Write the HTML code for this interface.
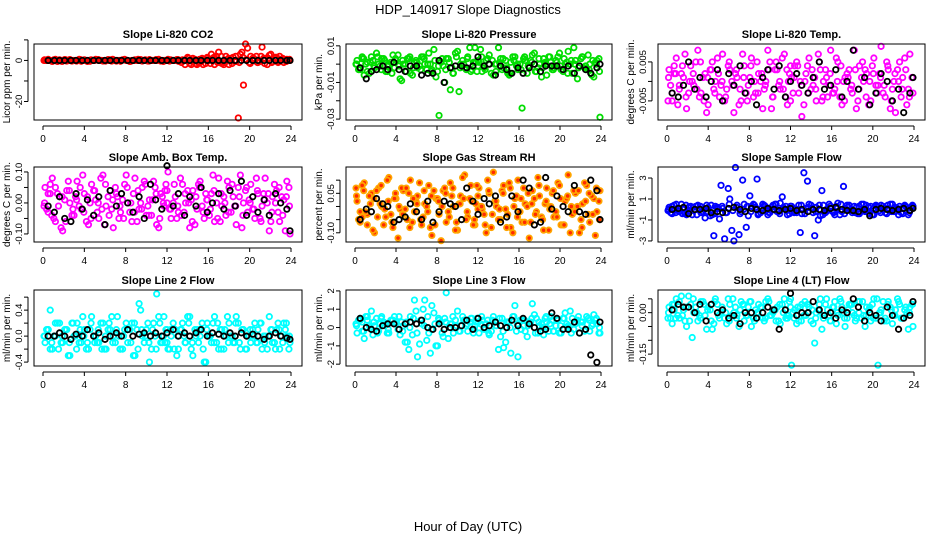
<!DOCTYPE html>
<html><head><meta charset="utf-8"><style>
body{margin:0;background:#fff;}
svg{display:block;font-family:"Liberation Sans",sans-serif;}
</style></head><body>
<svg id="chart" width="936" height="540" viewBox="0 0 936 540">
<text x="468" y="14" text-anchor="middle" font-size="13">HDP_140917  Slope Diagnostics</text>
<text x="468" y="531" text-anchor="middle" font-size="13">Hour of Day (UTC)</text>
</svg>
<script>
const xTicks=[0,4,8,12,16,20,24];
const xTickLabels=["0","4","8","12","16","20","24"];
const hoursA=[0.2,0.5,0.9,1.2,1.6,1.9,2.3,2.6,3.0,3.3,3.7,4.0,4.4,4.7,5.1,5.4,5.8,6.1,6.5,6.8,7.2,7.5,7.9,8.2,8.6,8.9,9.3,9.6,10.0,10.3,10.7,11.0,11.4,11.7,12.1,12.4,12.8,13.1,13.5,13.8,14.2,14.5,14.9,15.2,15.6,15.9,16.3,16.6,17.0,17.3,17.7,18.0,18.4,18.7,19.1,19.4,19.8,20.1,20.5,20.8,21.2,21.5,21.9,22.2,22.6,22.9,23.3,23.6,23.9,0.7];
const hoursB=[0.35,0.7,1.05,1.4,1.75,2.1,2.45,2.8,3.15,3.5,3.85,4.2,4.55,4.9,5.25,5.6,5.95,6.3,6.65,7.0,7.35,7.7,8.05,8.4,8.75,9.1,9.45,9.8,10.15,10.5,10.85,11.2,11.55,11.9,12.25,12.6,12.95,13.3,13.65,14.0,14.35,14.7,15.05,15.4,15.75,16.1,16.45,16.8,17.15,17.5,17.85,18.2,18.55,18.9,19.25,19.6,19.95,20.3,20.65,21.0,21.35,21.7,22.05,22.4,22.75,23.1,23.45,23.8,0.1,12.0];
const hoursC=[0.15,0.5,0.85,1.2,1.5,1.85,2.2,2.55,2.9,3.25,3.6,3.95,4.3,4.65,5.0,5.35,5.7,6.05,6.4,6.75,7.1,7.45,7.8,8.15,8.5,8.85,9.2,9.55,9.9,10.25,10.6,10.95,11.3,11.65,12.0,12.35,12.7,13.05,13.4,13.75,14.1,14.45,14.8,15.15,15.5,15.85,16.2,16.55,16.9,17.25,17.6,17.95,18.3,18.65,19.0,19.35,19.7,20.05,20.4,20.75,21.1,21.45,21.8,22.15,22.5,22.85,23.2,23.55,23.85,11.8];
const hoursK=[0.5,1.1,1.6,2.1,2.7,3.2,3.8,4.3,4.9,5.4,6.0,6.5,7.1,7.6,8.2,8.7,9.3,9.8,10.4,10.9,11.5,12.0,12.6,13.1,13.7,14.2,14.8,15.3,15.9,16.4,17.0,17.5,18.1,18.6,19.2,19.7,20.3,20.8,21.4,21.9,22.5,23.0,23.6,23.9];

// Panel 1: CO2 (ppm/min)
const co2A=[0,0.5,-0.5,0,0.3,0,-0.3,0.4,0,0,-0.4,0.3,0,0,0.5,0,-0.3,0,0.3,0,0,-0.4,0.5,0,0,0.3,0,-0.3,0,0.4,0,0,-0.3,0,0.5,0,0,-0.4,0.3,0,-1.5,1,-2,-1,0.5,1.5,3,-2,4,-1.5,2,-2,1.5,-0.5,3,-12,6,2,0,-1,6.5,1,2.5,-0.5,1.5,2,-1,0.5,0,0];
const co2B=[0,0,0.3,-0.5,0,0.4,0,-0.3,0,0.5,0,0,-0.4,0,0.3,0,0,0.4,-0.3,0,0,0.3,0,-0.5,0,0,0.4,0,-0.3,0,0,0.5,0,0,-0.3,0,0.4,0,0,1.5,-2,0.5,-1,1,-1.5,0,1,2,-1,-2,0.5,1,-0.5,-28,4,8,-1,1,2,-0.5,1,-2,3,1,-1,0.5,0,0.3,0,0];
const co2C=[0.3,0,-0.3,0.5,0,-0.5,0.3,0,0,-0.3,0.4,0,-0.5,0.3,0,0.4,0,-0.3,0,0.5,-0.3,0,0.3,0,-0.4,0,0.5,0,0.3,-0.3,0,0.4,0,-0.5,0,0.3,0,0.4,-1,-2,1,-0.5,-1.5,0.5,-2,1,-1.5,1.5,-1,2,-1,1,-1.5,2,-1,1.5,0.5,-1.5,1,-1,2,-1.5,1,-1,1.5,-0.5,1,-0.5,0.5,0];
const co2K=[0,0,0,0,0,0,0,0,0,0,0,0,0,0,0,0,0,0,0,0,0,0,0,0,0,0,0,0,0,0,0,0,0,0,0,0,0,0,0,0,0,0,0,0];
// Panel 2: pressure (0.001 kPa/min)
const presA=[2,-3,-6,1,4,-2,0,3,-4,-1,5,2,-8,0,3,-5,1,-2,4,0,6,-3,-7,-28,-1,3,-14,-5,7,0,-2,4,-3,9,1,-4,2,5,-6,0,3,-2,-5,1,4,-3,-24,2,-1,5,-4,0,3,-6,1,-2,4,-3,0,7,-5,2,-1,4,-3,0,-7,2,-29,3];
const presB=[-3,4,0,-5,2,6,-1,3,-4,1,-2,5,-9,0,3,-6,2,-1,4,-3,0,8,-4,1,-10,3,-2,6,-15,2,-3,9,1,-4,8,-2,3,-5,0,9,-3,2,-6,4,-1,0,3,-5,2,6,-2,-7,1,4,-3,2,6,-4,1,0,9,-8,3,-2,5,-6,1,3,0,2];
const presC=[0,-2,3,-4,1,-1,4,-3,2,0,-5,3,-1,2,-4,4,-2,1,-3,3,0,-4,2,-1,3,-3,1,-5,4,-2,0,3,-4,1,-1,4,-3,0,2,-4,1,3,-2,-5,2,0,-3,4,-1,1,-4,3,-2,0,4,-3,1,-1,3,-5,2,0,-2,4,-1,-3,2,0,-4,1];
const presK=[-2,-8,-4,-3,-1,-3,1,-3,-4,-1,-1,-6,-5,-5,2,-10,-2,-1,-1,-2,-1,4,-1,0,-6,-1,-3,-5,-2,-5,-2,0,-4,-1,-1,-1,-3,-1,-5,-1,-3,-5,-2,0];
// Panel 3: Li-820 temp (0.001 C/min)
const tempA=[3,-5,6,-2,1,-7,4,-1,8,-3,2,-6,5,0,-4,7,-2,3,-8,1,-5,4,-1,6,-3,2,-7,0,5,-4,3,-2,7,-6,1,4,-3,-9,2,6,-1,-5,3,0,-4,8,-2,5,-6,1,3,-3,-7,4,0,2,-5,6,-1,9,-4,3,-2,-8,5,1,-6,7,-3,2];
const tempB=[-1,4,-6,2,7,-3,0,5,-4,1,-8,3,-2,6,-1,-5,4,0,2,-6,7,-3,1,-4,5,0,-2,8,-7,3,-1,6,-4,2,-3,5,0,-6,4,-2,1,7,-5,3,-1,-3,6,-4,0,2,-2,8,-5,1,3,-6,4,-1,2,-3,5,-7,0,3,-4,6,-2,1,-5,4];
const tempC=[1,-3,2,-1,4,-4,0,2,-2,5,-5,1,3,-3,2,0,-4,5,-1,3,-2,1,-5,4,0,-3,2,-1,3,-4,5,0,-2,3,-5,1,4,-1,0,-3,3,-2,5,-4,1,2,-3,0,4,-5,1,-1,3,-2,5,-4,0,2,-3,1,-1,4,-5,2,0,-2,3,-4,1,0];
const tempK=[-3,-4,-1,5,-2,1,-4,0,3,-5,2,-1,4,-3,0,-6,1,3,-2,4,-4,0,2,-1,-3,1,5,-2,-1,3,-4,0,8,-2,1,-6,-3,2,0,-5,-2,-8,-3,1];
// Panel 4: amb box temp (0.01 C/min)
const ambA=[5,-3,8,-6,2,-9,4,0,-4,7,-2,3,-7,6,1,-5,9,-1,4,-8,2,-3,6,0,-6,8,-2,5,-4,1,7,-7,3,-1,10,-5,2,-3,6,0,-8,4,-2,7,-5,1,3,-6,8,-1,-4,5,2,-7,9,0,-3,6,-5,3,-1,8,-9,2,4,-6,1,7,-10,3];
const ambB=[-2,6,-5,3,-8,1,7,-4,2,-1,9,-6,0,4,-3,8,-7,2,-2,5,-5,1,9,-3,3,-6,0,7,-1,-4,5,-8,2,6,-2,0,-5,8,-3,4,1,-7,6,-1,3,-4,9,0,-6,2,7,-3,-1,5,-8,4,1,-2,8,-5,3,0,-6,6,-3,2,-9,5,-1,0];
const ambC=[0,3,-4,5,-1,2,-6,4,-2,1,5,-3,2,-5,4,0,-2,6,-4,1,3,-1,-5,5,0,-3,4,-2,6,-4,1,3,-5,0,4,-2,6,-1,-4,3,0,-6,2,5,-3,1,-2,4,-5,3,0,-3,6,-1,2,-4,5,0,-2,4,-6,1,3,-3,0,5,-4,2,-1,4];
const ambK=[-1,-3,2,-5,-6,3,-2,1,-4,2,-7,4,-1,3,0,-3,2,-5,6,1,-2,12,-1,3,-4,2,-1,5,-3,0,3,-2,4,-1,7,-4,2,-3,1,-4,3,0,-2,-9];
// Panel 5: gas stream RH (0.01 %/min)
const rhA=[2,-6,9,-3,5,-10,7,0,-4,11,-8,3,-1,6,-5,10,-2,4,-7,1,8,-11,3,-3,6,-6,9,0,-9,4,12,-4,2,-7,7,-1,-10,5,13,0,-5,8,-3,-8,3,10,-6,1,-12,6,-2,4,-9,7,0,-4,9,-7,2,12,-3,5,-10,1,8,-6,3,-2,6,-4];
const rhB=[-5,8,-2,4,-9,6,1,-7,10,-3,3,-12,7,-1,5,-6,2,9,-4,0,-8,6,3,-13,7,-2,4,-9,1,11,-5,3,-7,8,0,-3,10,-8,2,-5,6,-1,9,-10,4,-2,7,0,-6,3,11,-4,1,-9,5,-2,8,-7,3,-10,6,0,-5,9,-3,4,-11,2,7,-1];
const rhC=[4,-2,6,-7,1,3,-4,8,-1,2,-6,5,0,-3,7,-8,3,1,-5,6,-2,4,-7,2,0,5,-4,7,-6,1,3,-2,8,-5,4,0,-7,6,-3,2,-1,5,-8,7,0,-4,3,-6,5,1,-3,8,-5,2,-1,6,-4,3,-7,4,0,-2,6,-8,2,5,-3,7,-5,1];
const rhK=[-5,-1,-2,3,1,0,-6,-5,-4,1,-2,-5,2,-6,-2,2,1,0,-5,7,2,-3,3,1,4,-6,-4,4,-2,10,7,-7,-6,11,-1,4,0,-2,8,-2,-3,10,6,-5];
// Panel 6: sample flow (ml/min per min)
const flowA=[0.2,-0.4,0.5,-0.2,0.1,-0.5,0.3,-0.1,0.4,-0.3,-0.8,0.2,-0.5,0.3,-0.9,0.1,-0.3,1.0,-3.0,0.4,-0.2,0.5,-0.6,0.3,0.2,-0.4,0.5,-0.1,-0.3,0.4,-0.2,0.6,0.1,-0.5,0.3,-0.2,0.4,-0.4,0.1,0.5,-0.3,0.2,-0.6,0.4,-0.1,0.3,-0.5,0.6,-0.2,0.1,0.4,-0.3,0.2,-0.4,0.5,-0.1,0.3,-0.5,0.2,0.4,-0.3,0.1,0.5,-0.2,0.3,-0.4,0.2,-0.1,0.3,0];
const flowB=[-0.3,0.4,-0.1,0.5,-0.4,0.2,-0.5,0.3,0.1,-0.2,0.4,-0.6,-2.5,0.2,2.3,-2.8,2.0,-2.0,4.0,-2.4,2.8,-1.7,1.3,0.5,2.9,-0.3,0.4,-0.5,0.2,0.5,-0.2,1.2,0.3,-0.4,0.1,-0.3,-2.2,3.5,2.7,0.4,-2.5,-1.0,1.8,-0.3,0.5,-0.2,0.3,-0.5,2.2,0.4,-0.1,0.3,-0.4,0.5,-0.2,0.2,-0.5,0.4,-0.1,0.3,-0.4,0.5,-0.2,0.1,-0.3,0.4,-0.5,0.2,-0.1,0.3];
const flowC=[0,0.3,-0.3,0.1,-0.4,0.4,-0.1,0.2,-0.5,0.3,0,-0.2,0.4,-0.4,0.1,0.3,-0.3,0.5,-0.1,0.2,-0.4,0,0.3,-0.2,0.4,-0.5,0.1,0.3,-0.3,0,0.5,-0.4,0.2,-0.1,0.3,-0.3,0,0.4,-0.4,0.2,0.1,-0.2,0.4,-0.5,0,0.3,-0.3,0.1,0.5,-0.4,0.2,0,-0.3,0.3,-0.1,0.4,-0.4,0.1,0.3,-0.3,0,0.4,-0.2,0.2,-0.5,0.1,0.3,-0.3,0.4,0];
const flowK=[0,0.1,0.2,-0.4,0,0,0.1,-0.3,-0.2,-0.3,0.1,0.2,0,-0.2,0.1,0,-0.1,0.1,0,-0.1,0,0.1,-0.1,0,-0.2,0,0,-0.1,0.1,0.2,0,-0.1,-0.1,-0.2,0,-0.6,0,0.1,0,-0.1,0,0.1,-0.1,0.1];
// Panel 7: line 2 flow (0.1 ml/min per min)
const l2A=[-1,1,-2,0,2,-1,1,-3,0,2,-1,1,-2,3,0,-1,2,-2,1,0,3,-2,1,-1,2,-3,5,0,1,-4,2,6.5,-1,3,-2,0,1,-2,2,-1,3,-3,1,0,-4,2,-1,3,-2,1,0,2,-1,3,-2,1,0,-1,2,1,-2,0,3,-1,1,-2,2,0,-1,4];
const l2B=[1,-2,0,2,-1,1,-3,2,0,-1,3,-2,1,0,-1,2,-2,1,3,-1,0,-2,2,1,-3,1,4,-1,2,-2,0,3,-1,1,-2,2,-3,1,0,3,-2,1,-1,2,-4,0,2,-1,1,-2,3,0,-1,2,1,-2,0,1,-1,2,0,-2,1,-1,2,0,1,-2,0,1];
const l2C=[0,1,-1,2,-2,0,1,-1,2,-2,1,0,-1,2,-1,1,-2,0,2,-1,1,-2,0,1,-1,2,-2,1,0,-1,1,-2,2,0,-1,1,-2,0,1,-1,2,-1,0,1,-2,1,0,-1,2,-2,1,-1,0,2,-1,1,-2,1,0,-1,2,-1,0,1,-2,1,-1,2,0,-1];
const l2K=[0,0,0.5,0,-0.5,0.3,0,1,0,0.5,-0.5,0,0.5,0,1,0,0.3,0.5,0,0.5,0,0.5,1,0,0.5,0,0.5,1,0,0.5,0.3,0,0.5,0,0.5,0,0.3,0,-0.5,0,0.5,0,-0.3,-0.5];
// Panel 8: line 3 flow
const l3A=[-0.3,0.5,-0.6,0.4,0.9,0.1,-0.2,0.6,0.2,-0.3,0.4,0.3,-0.4,0.1,-0.8,0.6,1.5,-1.6,0.2,1.5,-0.3,1.2,-1.0,0.4,-0.5,1.9,0.2,-0.3,0.9,0.1,0.4,-0.2,0.5,0.1,-0.3,0.4,0.2,-0.4,0.6,0.1,-0.5,-1.1,0.3,-1.4,1.2,-1.6,0.4,-0.2,0.3,1.3,0.5,0.1,-0.4,0.3,0.6,-0.2,0.4,-0.3,0.8,0.1,0.5,0.2,-0.3,0.3,0.6,-0.2,0.7,0.2,-0.3,0.3];
const l3B=[0.4,-0.2,0.6,0.1,-0.4,0.5,0.2,0.3,-0.3,0.4,0.6,-0.1,0.3,-0.8,-1.2,-0.4,0.9,-0.9,1.0,-0.7,-1.4,0.8,-1.0,0.3,0.5,-0.6,0.2,0.4,-0.2,0.6,0.1,0.3,-0.3,0.5,0.2,-0.1,0.4,-0.2,0.3,-1.2,0.5,-0.8,0.3,0.6,-0.2,0.4,0.1,-0.5,0.3,0.7,-0.3,0.2,0.5,-0.2,0.4,0.1,-0.3,0.5,0.2,0.9,-0.1,0.4,0.3,-0.2,0.5,0.1,0.4,-0.3,0.2,0.3];
const l3C=[0.1,0.4,-0.2,0.6,0,0.3,-0.3,0.5,0.1,-0.1,0.4,0.2,0.6,-0.2,0.3,0,0.5,-0.3,0.4,0.1,0.6,-0.1,0.2,0.5,-0.3,0.3,0,0.6,0.1,-0.2,0.4,0.2,0.5,-0.1,0.3,0.6,0,-0.3,0.4,0.1,0.5,-0.2,0.3,0,0.6,0.2,-0.1,0.4,0.1,0.5,-0.3,0.3,0,0.6,0.2,-0.2,0.4,0.1,0.5,0,-0.3,0.3,0.6,0.1,-0.1,0.4,0.2,0.5,0,0.3];
const l3K=[0.5,0,-0.1,-0.2,0.1,0.2,0.2,-0.1,0.2,0.3,0.2,0.4,0,-0.1,0.2,-0.1,0,0,0.1,0.4,-0.1,0.5,0,0.1,0.3,0.1,0,0.4,0.1,0.5,0.2,0,-0.2,-0.1,0.8,0.5,-0.1,-0.1,0.3,-0.3,-0.1,-1.5,-1.9,0.3];
// Panel 9: line 4 flow (0.01 ml/min per min)
const l4A=[2,-4,5,-2,1,-5,3,0,-3,4,-1,2,-6,5,-2,1,-4,3,0,-1,4,-3,2,-5,1,3,-2,4,-1,0,2,-4,5,-2,-19,1,-3,3,-1,2,-4,0,5,-2,1,-3,4,-1,2,-5,3,0,-2,4,-1,2,-3,5,-19,1,-2,4,-4,1,3,-2,0,2,-5,1];
const l4B=[-2,3,-1,6,-3,6,-9,2,-1,4,-6,1,-4,3,0,-2,5,-1,2,-5,3,-1,4,-2,0,2,-3,5,-1,1,-3,3,-2,4,0,-4,2,-1,3,-3,-11,1,-6,3,-1,2,-4,5,0,-2,3,-1,4,-2,-5,1,3,-2,0,4,-3,2,-1,5,-2,1,-6,3,-2,2];
const l4C=[0,3,-2,4,-1,2,-3,5,0,-2,3,1,-3,4,-1,2,0,-3,5,-2,1,3,-1,4,-3,0,2,-2,4,1,-3,3,0,-1,5,-2,2,-3,4,0,1,-2,3,-1,5,-3,2,0,4,-2,1,3,-3,0,4,-1,2,-2,5,0,-3,3,1,-1,4,-2,2,0,3,-1];
const l4K=[1,3,2,2,0,3,-3,3,0,1,-2,-1,-4,0,0,-2,0,2,1,-6,1,7,-1,0,0,4,1,-1,0,-2,1,0,5,2,-3,0,-1,-3,2,-1,-6,-2,-1,4];

const yTicksCo2=[10,0,-10,-20], yLabCo2=["","0","","-20"];
const yTicksPres=[10,0,-10,-20,-30], yLabPres=["0.01","","-0.01","","-0.03"];
const yTicksTemp=[5,0,-5], yLabTemp=["0.005","","-0.005"];
const yTicksAmb=[10,5,0,-5,-10], yLabAmb=["0.10","","0.00","","-0.10"];
const yTicksRh=[10,5,0,-5,-10], yLabRh=["","0.05","","","-0.10"];
const yTicksFlow=[3,1,-1,-3], yLabFlow=["3","1","-1","-3"];
const yTicksL2=[6,4,2,0,-2,-4], yLabL2=["","0.4","","0.0","","-0.4"];
const yTicksL3=[2,1,0,-1,-2], yLabL3=["2","1","0","-1","-2"];
const yTicksL4=[5,0,-5,-10,-15], yLabL4=["","0.00","","","-0.15"];

const panels=[
 {name:"co2",title:"Slope Li-820 CO2",ylab:"Licor ppm per min.",col:0,row:0,dom:[-29,8],A:co2A,B:co2B,C:co2C,K:co2K,c:"#ff0000",t:yTicksCo2,l:yLabCo2},
 {name:"pressure",title:"Slope Li-820 Pressure",ylab:"kPa per min.",col:1,row:0,dom:[-30.5,11],A:presA,B:presB,C:presC,K:presK,c:"#00dd00",t:yTicksPres,l:yLabPres},
 {name:"li820-temp",title:"Slope Li-820 Temp.",ylab:"degrees C per min.",col:2,row:0,dom:[-9.9,9.6],A:tempA,B:tempB,C:tempC,K:tempK,c:"#ff00ff",t:yTicksTemp,l:yLabTemp},
 {name:"amb-box-temp",title:"Slope Amb. Box Temp.",ylab:"degrees C per min.",col:0,row:1,dom:[-12.6,11.6],A:ambA,B:ambB,C:ambC,K:ambK,c:"#ff00ff",t:yTicksAmb,l:yLabAmb},
 {name:"gas-stream-rh",title:"Slope Gas Stream RH",ylab:"percent per min.",col:1,row:1,dom:[-13.5,15],A:rhA,B:rhB,C:rhC,K:rhK,c:"#ffa500",t:yTicksRh,l:yLabRh},
 {name:"sample-flow",title:"Slope Sample Flow",ylab:"ml/min per min.",col:2,row:1,dom:[-3.1,4.05],A:flowA,B:flowB,C:flowC,K:flowK,c:"#0000ff",t:yTicksFlow,l:yLabFlow},
 {name:"line2-flow",title:"Slope Line 2 Flow",ylab:"ml/min per min.",col:0,row:2,dom:[-4.6,7.1],A:l2A,B:l2B,C:l2C,K:l2K,c:"#00ffff",t:yTicksL2,l:yLabL2},
 {name:"line3-flow",title:"Slope Line 3 Flow",ylab:"ml/min per min.",col:1,row:2,dom:[-2.1,2.05],A:l3A,B:l3B,C:l3C,K:l3K,c:"#00ffff",t:yTicksL3,l:yLabL3},
 {name:"line4-flow",title:"Slope Line 4 (LT) Flow",ylab:"ml/min per min.",col:2,row:2,dom:[-19.3,8.2],A:l4A,B:l4B,C:l4C,K:l4K,c:"#00ffff",t:yTicksL4,l:yLabL4}
];
const colL=[34,346,658], colR=[302,612,925], rowT=[44,167,290], rowB=[120,242,366];
const NS="http://www.w3.org/2000/svg";
const svg=document.getElementById("chart");
function mk(tag,attrs,parent){const e=document.createElementNS(NS,tag);for(const k in attrs)e.setAttribute(k,attrs[k]);(parent||svg).appendChild(e);return e;}
panels.forEach(p=>{
 const L=colL[p.col],R=colR[p.col],T=rowT[p.row],B=rowB[p.row];
 const g=mk("g",{});
 
 
 const xs=h=>L+9+(h/24)*(R-L-20);
 const ys=v=>B-(v-p.dom[0])/(p.dom[1]-p.dom[0])*(B-T);
 const tt=mk("text",{x:(L+R)/2,y:T-6,"text-anchor":"middle","font-size":"11","font-weight":"bold"},g);tt.textContent=p.title;
 
 
 const yl=mk("text",{x:0,y:0,"text-anchor":"middle","font-size":"10",transform:`translate(${L-24},${(T+B)/2}) rotate(-90)`},g);yl.textContent=p.ylab;
 
 
 const xa=mk("g",{},g);
 
 
 mk("line",{x1:xs(0),x2:xs(24),y1:B+6,y2:B+6,stroke:"#000","stroke-width":1},xa);
 xTicks.forEach((t,i)=>{mk("line",{x1:xs(t),x2:xs(t),y1:B+6,y2:B+10,stroke:"#000"},xa);
  const tx=mk("text",{x:xs(t),y:B+22,"text-anchor":"middle","font-size":"10"},xa);tx.textContent=xTickLabels[i];});
 const ya=mk("g",{},g);
 
 
 const tmin=Math.min(...p.t),tmax=Math.max(...p.t);
 mk("line",{x1:L-6,x2:L-6,y1:ys(tmin),y2:ys(tmax),stroke:"#000"},ya);
 p.t.forEach((t,i)=>{mk("line",{x1:L-10,x2:L-6,y1:ys(t),y2:ys(t),stroke:"#000"},ya);
  if(p.l[i]){const tx=mk("text",{x:0,y:0,"text-anchor":"middle","font-size":"9.5",transform:`translate(${L-12},${ys(t)}) rotate(-90)`},ya);tx.textContent=p.l[i];}});
 const pts=mk("g",{fill:"none"},g);
 
 
 const draw=(hs,vs,color,nm)=>{const n=Math.min(hs.length,vs.length);for(let i=0;i<n;i++){
   const c=mk("circle",{cx:xs(hs[i]),cy:ys(vs[i]),r:2.7,stroke:color,"stroke-width":1.8,fill:p.name==="gas-stream-rh"&&color!=="#000"?"#ff2a00":"none"},pts);
   
   }};
 draw(hoursA,p.A,p.c,p.name+'-point');
 draw(hoursB,p.B,p.c,p.name+'-point');
 draw(hoursC,p.C,p.c,p.name+'-point');
 draw(hoursK,p.K,"#000",p.name+'-reference-point');
 const box=mk("rect",{x:L,y:T,width:R-L,height:B-T,fill:"none",stroke:"#000","stroke-width":1},g);
 
 
});
</script>
</body></html>
